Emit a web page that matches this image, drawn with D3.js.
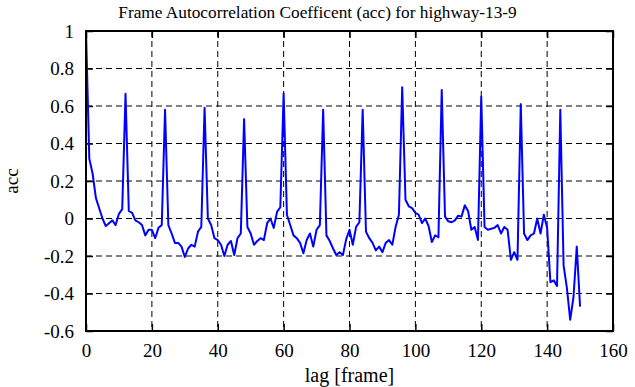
<!DOCTYPE html>
<html>
<head>
<meta charset="utf-8">
<script src="https://cdn.jsdelivr.net/npm/d3@7"></script>
<style>
  body { margin: 0; background: #fff; }
  svg text { font-family: "Liberation Serif", "Times New Roman", Times, serif; fill: #000; }
</style>
</head>
<body>
<div id="chart"></div>
<script>
// acc value per lag (index = lag in frames)
var acc = [
  1.0, 0.32, 0.24, 0.11, 0.055, 0.0, -0.04, -0.025, -0.01, -0.035,
  0.025, 0.05, 0.665, 0.04, 0.03, -0.01, -0.02, -0.035, -0.09, -0.06,
  -0.06, -0.105, -0.05, -0.035, 0.58, -0.035, -0.08, -0.13, -0.13, -0.15,
  -0.205, -0.16, -0.14, -0.15, -0.07, -0.045, 0.59, 0.0, -0.035, -0.105,
  -0.115, -0.14, -0.2, -0.14, -0.12, -0.195, -0.105, -0.08, 0.53, -0.045,
  -0.08, -0.14, -0.12, -0.105, -0.115, -0.025, 0.0, -0.05, 0.035, 0.06,
  0.667, 0.02, -0.035, -0.09, -0.105, -0.13, -0.185, -0.115, -0.08, -0.15,
  -0.06, -0.035, 0.58, -0.09, -0.12, -0.16, -0.195, -0.18, -0.195, -0.11,
  -0.06, -0.14, -0.045, -0.02, 0.58, -0.07, -0.105, -0.13, -0.17, -0.15,
  -0.18, -0.13, -0.115, -0.14, -0.045, 0.02, 0.70, 0.10, 0.065, 0.055,
  0.03, 0.02, -0.025, 0.0, -0.04, -0.125, -0.09, -0.1, 0.685, 0.01,
  -0.015, -0.02, -0.01, 0.015, 0.01, 0.07, 0.04, -0.06, -0.045, -0.115,
  0.65, -0.045, -0.06, -0.055, -0.05, -0.035, -0.08, -0.045, -0.06, -0.22,
  -0.18, -0.22, 0.61, -0.08, -0.115, -0.09, -0.08, 0.0, -0.08, 0.02,
  -0.05, -0.34, -0.33, -0.36, 0.58, -0.25, -0.37, -0.54, -0.42, -0.15,
  -0.47
];
var xTicks = [0, 20, 40, 60, 80, 100, 120, 140, 160];
var yTicks = [-0.6, -0.4, -0.2, 0, 0.2, 0.4, 0.6, 0.8, 1];

var width = 635, height = 387;
var margin = {top: 31, right: 22, bottom: 56, left: 86};
var w = width - margin.left - margin.right,
    h = height - margin.top - margin.bottom;
var serif = "'Liberation Serif', 'Times New Roman', serif";

var svg = d3.select("#chart").append("svg")
    .attr("width", width)
    .attr("height", height);

var g = svg.append("g")
    .attr("transform", "translate(" + margin.left + "," + margin.top + ")");

var x = d3.scaleLinear().domain([0, 160]).range([0, w]);
var y = d3.scaleLinear().domain([-0.6, 1]).range([h, 0]);

// dashed grid
g.selectAll(".gx").data(xTicks.slice(1, -1)).enter().append("line")
    .attr("x1", function(d) { return x(d); })
    .attr("x2", function(d) { return x(d); })
    .attr("y1", 0).attr("y2", h)
    .attr("stroke", "#000").attr("stroke-width", 1)
    .attr("stroke-dasharray", "6,4");
g.selectAll(".gy").data(yTicks.slice(1, -1)).enter().append("line")
    .attr("y1", function(d) { return y(d); })
    .attr("y2", function(d) { return y(d); })
    .attr("x1", 0).attr("x2", w)
    .attr("stroke", "#000").attr("stroke-width", 1)
    .attr("stroke-dasharray", "6,4");

// axes: ticks inward, labels outside
var xAxis = d3.axisBottom(x).tickValues(xTicks).tickSize(-7).tickPadding(13)
    .tickFormat(d3.format("d"));
var yAxis = d3.axisLeft(y).tickValues(yTicks).tickSize(-7).tickPadding(12)
    .tickFormat(function(d) { return String(+d.toFixed(1)); });

g.append("g").attr("transform", "translate(0," + h + ")").call(xAxis);
g.append("g").call(yAxis);
g.append("g").call(d3.axisTop(x).tickValues(xTicks).tickSize(-7).tickFormat(""));
g.append("g").attr("transform", "translate(" + w + ",0)")
    .call(d3.axisRight(y).tickValues(yTicks).tickSize(-7).tickFormat(""));

g.selectAll(".domain").remove();
g.selectAll("g").attr("font-family", serif).attr("font-size", 19);
g.selectAll(".tick line").attr("stroke", "#000").attr("stroke-width", 1.5);
g.selectAll(".tick text").attr("fill", "#000");

// line
var line = d3.line()
    .x(function(d, i) { return x(i); })
    .y(function(d) { return y(d); });

g.append("path")
    .datum(acc)
    .attr("fill", "none")
    .attr("stroke", "#0000ff")
    .attr("stroke-width", 2)
    .attr("stroke-linejoin", "round")
    .attr("d", line);

// frame
g.append("rect")
    .attr("width", w).attr("height", h)
    .attr("fill", "none").attr("stroke", "#000").attr("stroke-width", 2);

// titles
svg.append("text")
    .attr("x", width / 2).attr("y", 18)
    .attr("text-anchor", "middle")
    .attr("font-size", 17.3)
    .text("Frame Autocorrelation Coefficent (acc) for highway-13-9");

svg.append("text")
    .attr("x", margin.left + w / 2).attr("y", 382)
    .attr("text-anchor", "middle")
    .attr("font-size", 20)
    .text("lag [frame]");

svg.append("text")
    .attr("transform", "translate(18," + (margin.top + h / 2) + ") rotate(-90)")
    .attr("text-anchor", "middle")
    .attr("font-size", 19)
    .text("acc");
</script>
</body>
</html>
